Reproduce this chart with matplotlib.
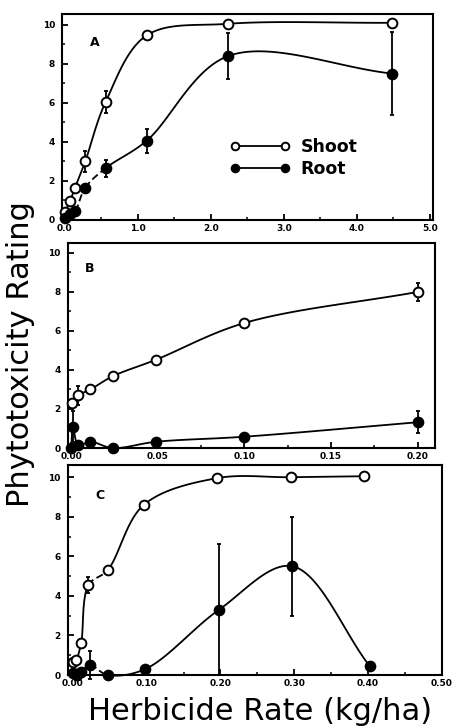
import numpy as np
import matplotlib
matplotlib.use("Agg")
import matplotlib.pyplot as plt
from matplotlib.lines import Line2D

# panel A  (kg/ha)
rate_a = [0.0, 0.07, 0.14, 0.28, 0.56, 1.12, 2.24, 4.48]
shoot_a = [0.4, 0.95, 1.65, 3.0, 6.05, 9.45, 10.05, 10.1]
shoot_a_err = [0, 0, 0, 0.55, 0.55, 0, 0, 0]
root_a = [0.1, 0.3, 0.45, 1.65, 2.65, 4.05, 8.4, 7.5]
root_a_err = [0, 0, 0, 0, 0.43, 0.6, 1.2, 2.15]

# panel B
rate_b = [0.0005, 0.004, 0.011, 0.024, 0.049, 0.1, 0.2]
shoot_b = [2.3, 2.7, 3.0, 3.68, 4.53, 6.41, 8.0]
shoot_b_err = [0, 0.5, 0, 0, 0, 0, 0.45]
rate_b_root = [0.0, 0.001, 0.004, 0.011, 0.024, 0.049, 0.1, 0.2]
root_b = [0.0, 1.1, 0.15, 0.32, 0.0, 0.32, 0.58, 1.32]
root_b_err = [0, 0.8, 0, 0, 0, 0, 0, 0.57]

# panel C
rate_c = [0.0, 0.004, 0.011, 0.021, 0.047, 0.096, 0.195, 0.295, 0.395]
shoot_c = [0.67, 0.76, 1.6, 4.55, 5.3, 8.6, 9.95, 10.0, 10.05]
shoot_c_err = [0, 0, 0.2, 0.4, 0, 0, 0, 0, 0]
rate_c_root = [0.0, 0.005, 0.011, 0.023, 0.047, 0.098, 0.198, 0.297, 0.402]
root_c = [0.1, 0.0, 0.17, 0.5, 0.0, 0.3, 3.3, 5.5, 0.46]
root_c_err = [0, 0, 0, 0.7, 0, 0, 3.3, 2.5, 0]


def smooth_segments(ax, x, y, n=40):
    # centripetal catmull-rom drawn in screen space, one array per segment
    p = ax.transData.transform(np.column_stack([x, y]))
    p = np.vstack([2 * p[0] - p[1], p, 2 * p[-1] - p[-2]])
    segs = []
    for i in range(1, len(p) - 2):
        p0, p1, p2, p3 = p[i - 1], p[i], p[i + 1], p[i + 2]
        t0 = 0.0
        t1 = t0 + max(np.linalg.norm(p1 - p0), 1e-6) ** 0.5
        t2 = t1 + max(np.linalg.norm(p2 - p1), 1e-6) ** 0.5
        t3 = t2 + max(np.linalg.norm(p3 - p2), 1e-6) ** 0.5
        t = np.linspace(t1, t2, n)[:, None]
        a1 = (t1 - t) / (t1 - t0) * p0 + (t - t0) / (t1 - t0) * p1
        a2 = (t2 - t) / (t2 - t1) * p1 + (t - t1) / (t2 - t1) * p2
        a3 = (t3 - t) / (t3 - t2) * p2 + (t - t2) / (t3 - t2) * p3
        b1 = (t2 - t) / (t2 - t0) * a1 + (t - t0) / (t2 - t0) * a2
        b2 = (t3 - t) / (t3 - t1) * a2 + (t - t1) / (t3 - t1) * a3
        c = (t2 - t) / (t2 - t1) * b1 + (t - t1) / (t2 - t1) * b2
        segs.append(ax.transData.inverted().transform(c))
    return segs


def draw_series(ax, x, y, err, filled, dashed=()):
    for i, s in enumerate(smooth_segments(ax, x, y)):
        ls = (0, (4, 2)) if i in dashed else "-"
        ax.plot(s[:, 0], s[:, 1], color="black", lw=1.3, ls=ls, zorder=2,
                clip_on=False)
    ax.errorbar(x, y, yerr=err, fmt="none", ecolor="black", elinewidth=1.3,
                capsize=1.5, capthick=1.3, zorder=3, clip_on=False)
    ax.plot(x, y, "o", ms=7, mec="black", mew=1.4,
            mfc="black" if filled else "white", ls="none", zorder=4,
            clip_on=False)


def style_axis(ax, xmax_tick, xstep, xminor, fmt, letter, lx, ly):
    ax.set_yticks(np.arange(0, 11, 2))
    ax.set_yticks(np.arange(1, 11, 2), minor=True)
    ax.set_xticks(np.arange(0, xmax_tick + xstep / 2, xstep))
    ax.set_xticks(np.arange(0, xmax_tick + 1e-9, xminor), minor=True)
    ax.set_xticklabels([fmt % v for v in np.arange(0, xmax_tick + xstep / 2, xstep)])
    ax.tick_params(which="major", direction="in", length=4, width=1.3,
                   labelsize=6.5)
    ax.tick_params(axis="x", which="major", pad=3)
    ax.tick_params(axis="y", which="major", pad=5)
    ax.tick_params(which="minor", direction="in", length=2.5, width=1.1)
    for lab in ax.get_xticklabels() + ax.get_yticklabels():
        lab.set_fontweight("bold")
    for sp in ax.spines.values():
        sp.set_linewidth(1.5)
    ax.text(lx, ly, letter, transform=ax.transAxes, fontsize=9,
            fontweight="bold", ha="center", va="center")


fig = plt.figure(figsize=(4.55, 7.28), dpi=100)
ax_a = fig.add_axes([0.136, 0.698, 0.815, 0.283])
ax_b = fig.add_axes([0.149, 0.3846, 0.807, 0.2816])
ax_c = fig.add_axes([0.149, 0.0728, 0.822, 0.288])

ax_a.set_xlim(-0.04, 5.04)
ax_a.set_ylim(0, 10.56)
ax_b.set_xlim(-0.002, 0.21)
ax_b.set_ylim(0, 10.51)
ax_c.set_xlim(-0.007, 0.5)
ax_c.set_ylim(0, 10.6)

style_axis(ax_a, 5.0, 1.0, 0.5, "%.1f", "A", 0.089, 0.86)
style_axis(ax_b, 0.2, 0.05, 0.025, "%.2f", "B", 0.06, 0.878)
style_axis(ax_c, 0.5, 0.1, 0.05, "%.2f", "C", 0.086, 0.856)

draw_series(ax_a, rate_a, shoot_a, shoot_a_err, False)
draw_series(ax_a, rate_a, root_a, root_a_err, True, dashed=(2, 3))
draw_series(ax_b, rate_b, shoot_b, shoot_b_err, False)
draw_series(ax_b, rate_b_root, root_b, root_b_err, True)
draw_series(ax_c, rate_c, shoot_c, shoot_c_err, False, dashed=(3,))
draw_series(ax_c, rate_c_root, root_c, root_c_err, True, dashed=(3,))

handles = [
    Line2D([], [], color="black", lw=1.3, marker="o", ms=5.5, mfc="white",
           mec="black", mew=1.4),
    Line2D([], [], color="black", lw=1.3, marker="o", ms=5.5, mfc="black",
           mec="black", mew=1.4),
]
leg = ax_a.legend(handles, ["Shoot", "Root"], numpoints=2, handlelength=3.5,
                  frameon=False, loc="center left",
                  bbox_to_anchor=(0.41, 0.30), fontsize=12.5,
                  labelspacing=0.2, handletextpad=0.6)
for t in leg.get_texts():
    t.set_fontweight("bold")

fig.text(0.044, 0.513, "Phytotoxicity Rating", rotation=90, fontsize=22,
         ha="center", va="center")
fig.text(0.572, 0.022, "Herbicide Rate (kg/ha)", fontsize=22,
         ha="center", va="center")

fig.savefig("out.png", dpi=100)
